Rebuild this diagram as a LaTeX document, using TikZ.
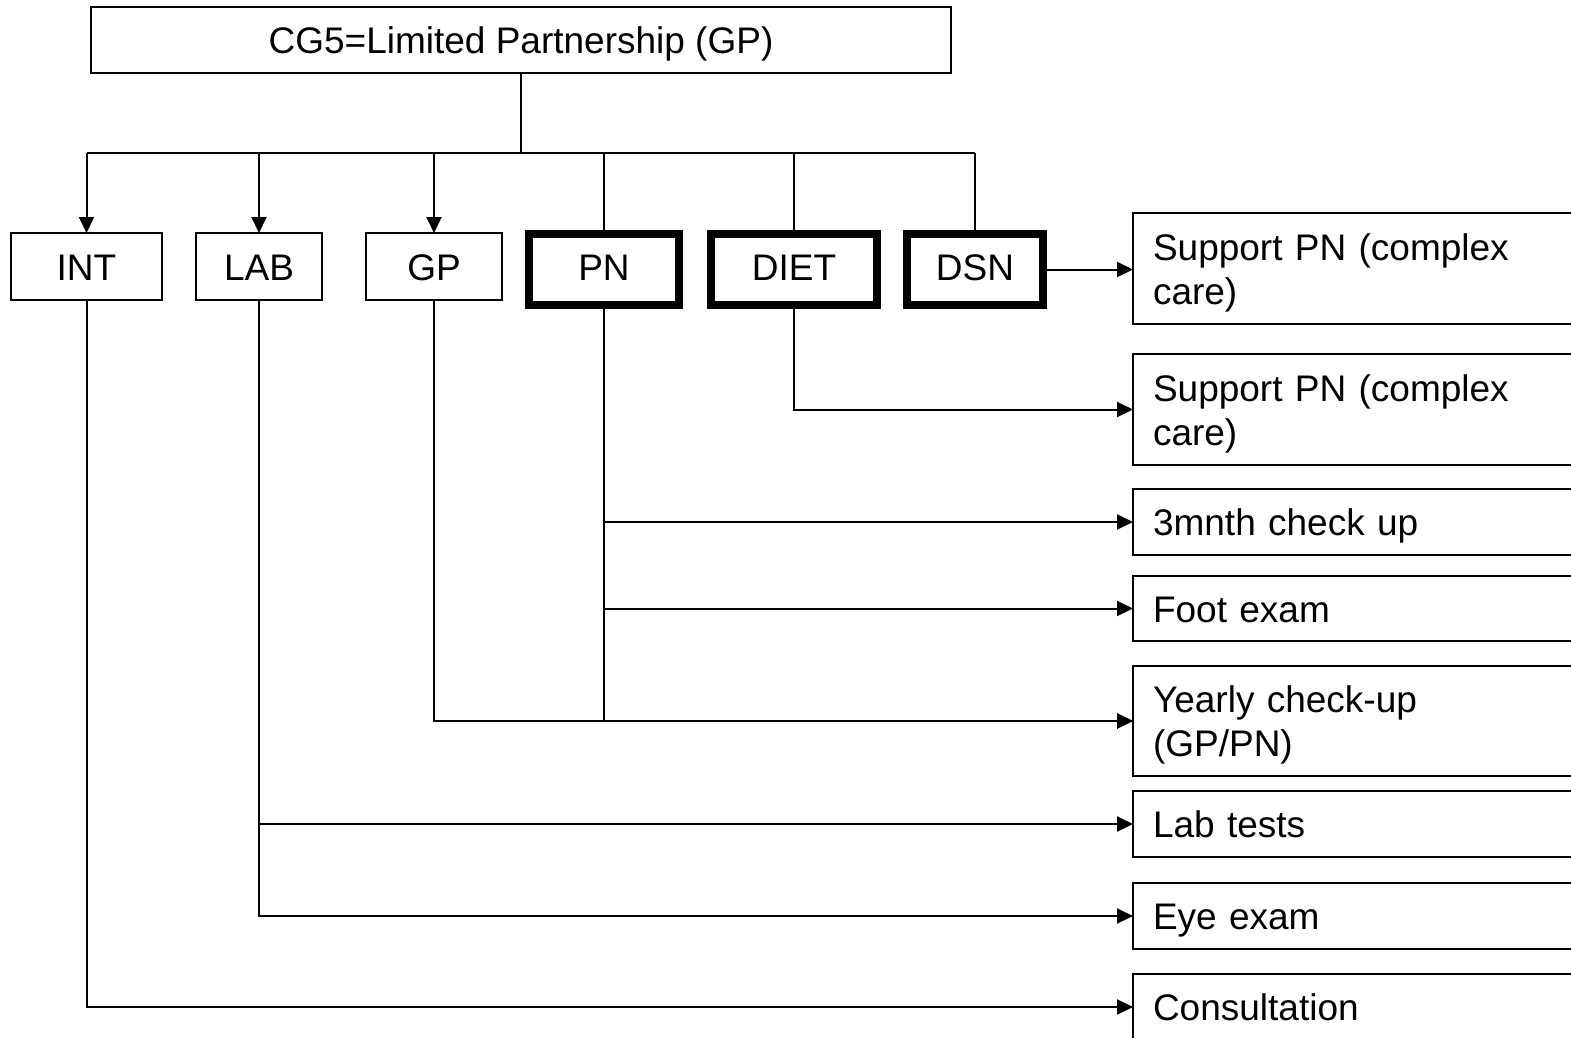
\documentclass[tikz,border=0pt]{standalone}
\usepackage{fontspec}
\setmainfont{Liberation Sans}
\usetikzlibrary{arrows.meta}
\begin{document}
\begin{tikzpicture}[x=1pt,y=-1pt,
  line width=2pt,
  every node/.style={font=\fontsize{37}{44}\selectfont, inner sep=0pt, outer sep=0pt},
  oneline/.style={text height=27pt, text depth=0pt},
  thinbox/.style={draw, line width=2pt, align=center, oneline},
  thickbox/.style={draw, line width=8pt, align=center, text height=27pt, text depth=6pt},
  taskbox/.style={draw, line width=2pt, anchor=west, minimum width=470pt,
    text width=430pt, inner xsep=20pt, align=left},
  arr/.style={-{Triangle[length=16pt,width=15pt]}}]
\useasboundingbox (0,0) rectangle (1571,1037);
\clip (0,0) rectangle (1571,1037);

% root
\node[thinbox, minimum width=860pt, minimum height=66pt] (top) at (521,40) {CG5=Limited Partnership (GP)};

% first level
\node[thinbox, minimum width=151pt, minimum height=67pt] (int)  at (86.5,266.5) {INT};
\node[thinbox, minimum width=126pt, minimum height=67pt] (lab)  at (259,266.5)  {LAB};
\node[thinbox, minimum width=136pt, minimum height=67pt] (gp)   at (434,266.5)  {GP};
\node[thickbox, minimum width=150pt, minimum height=71pt] (pn)   at (604,269.5) {PN};
\node[thickbox, minimum width=166pt, minimum height=71pt] (diet) at (794,269.5) {DIET};
\node[thickbox, minimum width=136pt, minimum height=71pt] (dsn)  at (975,269.5) {DSN};

% tasks
\node[taskbox, minimum height=111pt] (sup1)    at (1133,268.5) {\rule{0pt}{35pt}Support PN (complex\\care)};
\node[taskbox, minimum height=111pt] (sup2)    at (1133,409.5) {\rule{0pt}{35pt}Support PN (complex\\care)};
\node[taskbox, oneline, minimum height=66pt]  (check)   at (1133,522)   {3mnth check up};
\node[taskbox, oneline, minimum height=65pt]  (foot)    at (1133,608.5) {Foot exam};
\node[taskbox, minimum height=110pt] (yearly)  at (1133,721)   {\rule{0pt}{35pt}Yearly check-up\\(GP/PN)};
\node[taskbox, oneline, minimum height=66pt]  (labt)    at (1133,824)   {Lab tests};
\node[taskbox, oneline, minimum height=66pt]  (eye)     at (1133,916)   {Eye exam};
\node[taskbox, oneline, minimum height=66pt]  (consult) at (1133,1007)  {Consultation};

% tree from the root
\draw (top.south) -- ++(0,80) coordinate (bus);
\draw (int.north |- bus) -- (dsn.north |- bus);
\draw[arr] (int.north |- bus) -- (int.north);
\draw[arr] (lab.north |- bus) -- (lab.north);
\draw[arr] (gp.north |- bus) -- (gp.north);
\draw (pn.north |- bus) -- (pn.north);
\draw (diet.north |- bus) -- (diet.north);
\draw (dsn.north |- bus) -- (dsn.north);

% links to tasks
\draw[arr] (dsn.east) -- (dsn.east -| sup1.west);
\draw[arr] (diet.south) |- (sup2.west);
\draw[arr] (pn.south) |- (check.west);
\draw[arr] (pn.south) |- (foot.west);
\draw[arr] (pn.south) |- (yearly.west);
\draw[arr] (gp.south) |- (yearly.west);
\draw[arr] (lab.south) |- (labt.west);
\draw[arr] (lab.south) |- (eye.west);
\draw[arr] (int.south) |- (consult.west);
\end{tikzpicture}
\end{document}
